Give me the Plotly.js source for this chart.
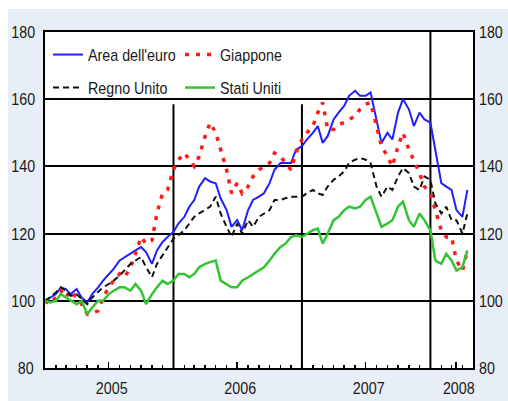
<!DOCTYPE html>
<html>
<head>
<meta charset="utf-8">
<script src="https://cdn.plot.ly/plotly-3.0.1.min.js"></script>
<style>html,body{margin:0;padding:0;background:#fff;}#chart{width:508px;height:401px;}</style>
</head>
<body>
<div id="chart"></div>
<script>
// Semi-monthly observations, Jan 2005 - Apr 2008 (index: 1 Jan 2005 = 100)
const dates = [];
for (let y = 2005; y <= 2008; y++) {
  for (let m = 1; m <= 12; m++) {
    if (y === 2008 && m > 4) break;
    const mm = String(m).padStart(2, '0');
    dates.push(`${y}-${mm}-01`, `${y}-${mm}-15`);
  }
}

const areaEuro = [100,101,102,104,103.5,102,103.5,101,99.5,102,104,106,108,109.5,112,113,114,115,116,114.5,
  111,115,117.5,119,120.5,123,125,128,130,134,136.5,135.5,135,130.5,127,122,124,121,127,130,
  131,132,135,139,141,141,141,145,146,148,150,152,147,149,154,156,158,161,162.5,161,
  161,162,154,147,150,148,156,160,157,152,156,154,153,145,135,134,133,127,125,133];

const giappone = [100,99,101,103,101,103,101,99,96,96.5,97,101,104,106,108,107,110,114,119,117,
  118,126,132,133,139,142,144,142,140,143,149,153,150,145,139,132,135,132,134,137,
  139,140,141,144,143,141,139,144,148,150,152,156,159,151,151,152.5,153,154,155,157,
  158.5,159,152,146,143,140,146,150,145,142,138,134,132,127,121,119,119,112,109,115];

const regnoUnito = [100,101,102.5,104,103,101.5,102,100.5,99,101,102.5,104,105,106,107.5,109,111,112,113,110,
  107,111,113.5,116,118.5,119.5,121,123,125,126,127,128,131,126,122,119,123,120,124,122,
  125,126,127,130,130,130.5,131,131,131,132,133,132,131.5,134,136,137,138.5,141,142,142.5,
  142,141,134,131,134,133,137,139.5,138,134,133,137,136,129,126,128,124,124,120,126];

const statiUniti = [100,99.5,100,102,101,100,99,100,96,98,100,100,102,103,104,104,103,105,103,99,
  102,104,106,105,106,108,108,107,108,110,111,111.5,112,106,105,104,104,106,107,108,
  109,110,112,114,116,117,119,119.5,119,120,121,121.5,117,120,124,125,127,128,127.5,128,
  130,131,126,122,123,124,128,129.5,124,122,126,124,121,112,111,114,112,109,110,115];

const seriesNames = ["Area dell'euro", "Giappone", "Regno Unito", "Stati Uniti"];
const yTicks = [80, 100, 120, 140, 160, 180];
const xTickVals = ['2005-07-01', '2006-07-01', '2007-07-01', '2008-03-13'];
const xTickText = ['2005', '2006', '2007', '2008'];
const yearBounds = ['2006-01-01', '2007-01-01', '2008-01-01'];

const FONT = '"Liberation Sans", Arial, sans-serif';
const TXT = '#1a1a1a';

const traces = [
  {x: dates, y: areaEuro, name: seriesNames[0], type: 'scatter', mode: 'lines',
   line: {color: '#1f1fff', width: 2}, legend: 'legend'},
  {x: dates, y: giappone, name: seriesNames[1], type: 'scatter', mode: 'lines',
   line: {color: '#ff1a1a', width: 3.5, dash: '4px,7px'}, legend: 'legend'},
  {x: dates, y: regnoUnito, name: seriesNames[2], type: 'scatter', mode: 'lines',
   line: {color: '#111111', width: 2, dash: '6px,4px'}, legend: 'legend2'},
  {x: dates, y: statiUniti, name: seriesNames[3], type: 'scatter', mode: 'lines',
   line: {color: '#33c433', width: 2.5}, legend: 'legend2'},
  {x: dates, y: statiUniti, yaxis: 'y2', type: 'scatter', mode: 'lines', opacity: 0,
   showlegend: false, hoverinfo: 'skip', line: {width: 0}}
];

const shapes = [];
yearBounds.forEach((d, i) => {
  shapes.push({type: 'line', xref: 'x', yref: 'y', x0: d, x1: d, y0: 80, y1: i < 2 ? 158.5 : 180,
    line: {color: 'black', width: 2}, layer: 'between'});
});
// white legend box hiding the grid
shapes.push({type: 'rect', xref: 'paper', yref: 'y', x0: 0, x1: 0.605, y0: 158.4, y1: 180,
  fillcolor: 'white', line: {width: 0}, layer: 'between'});
// white strips outside the light-blue panel
shapes.push({type: 'rect', xref: 'paper', yref: 'paper', x0: -0.2, x1: 1.2, y0: (368 - 9) / 336, y1: 1.2,
  fillcolor: 'white', line: {width: 0}, layer: 'below'});
shapes.push({type: 'rect', xref: 'paper', yref: 'paper', x0: -0.2, x1: (8 - 45) / 428, y0: -0.2, y1: 1.2,
  fillcolor: 'white', line: {width: 0}, layer: 'below'});

const legendBase = {
  orientation: 'h', x: 0.007, xanchor: 'left', yanchor: 'middle',
  bgcolor: 'rgba(0,0,0,0)', borderwidth: 0, entrywidth: 87, entrywidthmode: 'pixels',
  font: {family: FONT, size: 17, color: TXT}, itemwidth: 30, tracegroupgap: 0
};

const layout = {
  width: 508, height: 401,
  margin: {l: 45, r: 35, t: 32, b: 33},
  paper_bgcolor: '#e7eef5',
  plot_bgcolor: '#ffffff',
  font: {family: FONT, size: 17, color: TXT},
  showlegend: true,
  xaxis: {
    type: 'date', range: ['2005-01-01', '2008-05-01'],
    tickmode: 'array', tickvals: xTickVals, ticktext: xTickText,
    ticks: 'inside', ticklen: 6, tickwidth: 1.5, tickcolor: 'black',
    minor: {dtick: 'M1', tick0: '2005-01-01', ticks: 'inside', ticklen: 3, tickwidth: 1.5, tickcolor: 'black', showgrid: false},
    showgrid: false, zeroline: false,
    showline: true, mirror: true, linecolor: 'black', linewidth: 2,
    tickfont: {family: FONT, size: 17, color: TXT},
    ticklabelstandoff: 4
  },
  yaxis: {
    range: [80, 180], tickmode: 'array', tickvals: yTicks,
    showgrid: true, gridcolor: 'black', gridwidth: 2,
    zeroline: false, showline: true, mirror: true, linecolor: 'black', linewidth: 2,
    ticks: '', tickfont: {family: FONT, size: 17, color: TXT},
    ticklabelstandoff: 9
  },
  yaxis2: {
    range: [80, 180], tickmode: 'array', tickvals: yTicks, overlaying: 'y', side: 'right',
    showgrid: false, zeroline: false, showline: false, ticks: '',
    tickfont: {family: FONT, size: 17, color: TXT},
    ticklabelstandoff: 5
  },
  legend: Object.assign({}, legendBase, {y: (368 - 55) / 336}),
  legend2: Object.assign({}, legendBase, {y: (368 - 88) / 336}),
  shapes: shapes
};

Plotly.newPlot('chart', traces, layout, {displayModeBar: false, staticPlot: true}).then(gd => {
  // the reference uses a condensed face: compress all text horizontally, keeping its anchor
  const K = 0.84;
  gd.querySelectorAll('svg text').forEach(t => {
    const L = t.getComputedTextLength();
    if (L > 0) {
      const anchor = t.getAttribute('text-anchor') || getComputedStyle(t).textAnchor || 'start';
      const d = L * (1 - K);
      const dx = anchor === 'end' ? d : (anchor === 'middle' ? d / 2 : 0);
      t.setAttribute('textLength', (L * K).toFixed(1));
      t.setAttribute('lengthAdjust', 'spacingAndGlyphs');
      if (dx) {
        const tr = t.getAttribute('transform') || '';
        t.setAttribute('transform', `translate(${dx.toFixed(2)},0) ${tr}`);
      }
    }
  });
});
</script>
</body>
</html>
